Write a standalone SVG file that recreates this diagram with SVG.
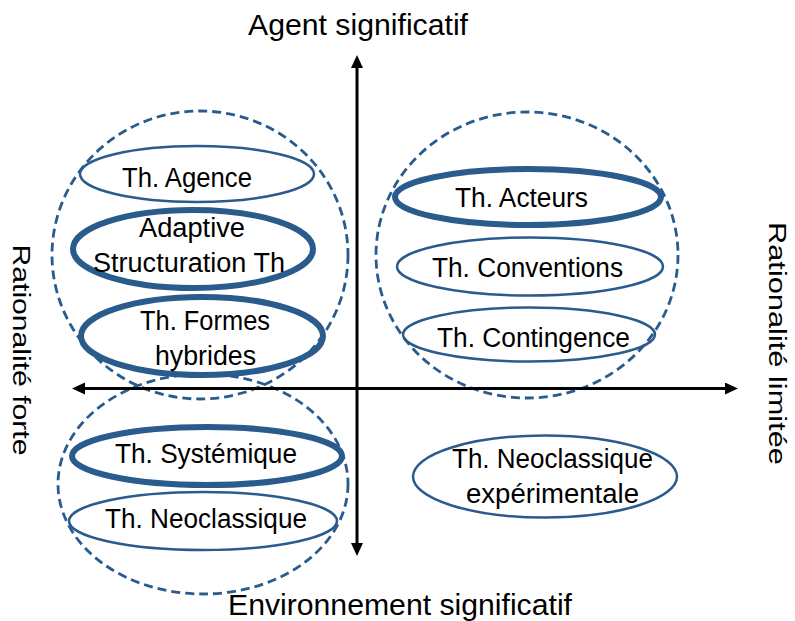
<svg xmlns="http://www.w3.org/2000/svg" width="795" height="621" viewBox="0 0 795 621">
<style>
.grp{fill:none;stroke:#2a5b8d;stroke-width:2.8;stroke-dasharray:9 5}
.thin{fill:none;stroke:#2a5b8d;stroke-width:2.5}
.thick{fill:none;stroke:#2a5b8d;stroke-width:6}
.t{font-family:"Liberation Sans",Arial,sans-serif;font-size:27px;fill:#000;text-anchor:middle}
.ax{font-family:"Liberation Sans",Arial,sans-serif;font-size:29px;fill:#000;text-anchor:middle}
.sx{font-family:"Liberation Sans",Arial,sans-serif;font-size:23px;fill:#000;text-anchor:middle}
.axis{stroke:#000;stroke-width:3;fill:none}
</style>
<defs>
<marker id="ah" markerUnits="userSpaceOnUse" markerWidth="14" markerHeight="13" refX="3" refY="6" orient="auto-start-reverse">
<path d="M0,0 L13,6 L0,12 z" fill="#000"/>
</marker>
</defs>
<rect width="795" height="621" fill="#fff"/>

<g id="groups">
<ellipse id="group-top-left" class="grp" cx="200" cy="255" rx="148" ry="144"/>
<ellipse id="group-top-right" class="grp" cx="527" cy="255" rx="151" ry="143"/>
<ellipse id="group-bottom-left" class="grp" cx="203" cy="484" rx="145" ry="110"/>
</g>

<g id="connectors">
<line class="axis" x1="357" y1="546" x2="357" y2="65" marker-start="url(#ah)" marker-end="url(#ah)"/>
<line class="axis" x1="82" y1="388.5" x2="728" y2="388.5" marker-start="url(#ah)" marker-end="url(#ah)"/>
</g>

<g id="node-agence">
<ellipse class="thin" cx="197" cy="174" rx="117" ry="28"/>
<text class="t" x="187" y="187" textLength="130" lengthAdjust="spacingAndGlyphs">Th. Agence</text>
</g>
<g id="node-adaptive">
<ellipse class="thick" cx="193" cy="249" rx="120" ry="39"/>
<text class="t" x="192" y="237" textLength="106" lengthAdjust="spacingAndGlyphs">Adaptive</text>
<text class="t" x="189" y="272" textLength="192" lengthAdjust="spacingAndGlyphs">Structuration Th</text>
</g>
<g id="node-formes">
<ellipse class="thick" cx="202" cy="336" rx="121" ry="39"/>
<text class="t" x="205" y="330" textLength="130" lengthAdjust="spacingAndGlyphs">Th. Formes</text>
<text class="t" x="205.5" y="365" textLength="101" lengthAdjust="spacingAndGlyphs">hybrides</text>
</g>
<g id="node-acteurs">
<ellipse class="thick" cx="528" cy="197" rx="133" ry="28"/>
<text class="t" x="521.5" y="207" textLength="133" lengthAdjust="spacingAndGlyphs">Th. Acteurs</text>
</g>
<g id="node-conventions">
<ellipse class="thin" cx="530" cy="266.5" rx="133" ry="29"/>
<text class="t" x="527.5" y="277" textLength="191" lengthAdjust="spacingAndGlyphs">Th. Conventions</text>
</g>
<g id="node-contingence">
<ellipse class="thin" cx="529" cy="334.5" rx="126" ry="27"/>
<text class="t" x="533.5" y="347" textLength="193" lengthAdjust="spacingAndGlyphs">Th. Contingence</text>
</g>
<g id="node-systemique">
<ellipse class="thick" cx="207" cy="456" rx="135" ry="29"/>
<text class="t" x="206" y="463" textLength="182" lengthAdjust="spacingAndGlyphs">Th. Systémique</text>
</g>
<g id="node-neoclassique">
<ellipse class="thin" cx="203" cy="521" rx="134" ry="29"/>
<text class="t" x="206" y="528" textLength="202" lengthAdjust="spacingAndGlyphs">Th. Neoclassique</text>
</g>
<g id="node-neoclassique-exp">
<ellipse class="thin" cx="545" cy="476.5" rx="132" ry="41"/>
<text class="t" x="552.5" y="468" textLength="201" lengthAdjust="spacingAndGlyphs">Th. Neoclassique</text>
<text class="t" x="552.5" y="503" textLength="173" lengthAdjust="spacingAndGlyphs">expérimentale</text>
</g>

<g id="axis-labels">
<text class="ax" x="358" y="35" textLength="220" lengthAdjust="spacingAndGlyphs">Agent significatif</text>
<text class="ax" x="400" y="615" textLength="344" lengthAdjust="spacingAndGlyphs">Environnement significatif</text>
<text class="sx" transform="translate(13,350) rotate(90)" textLength="211" lengthAdjust="spacingAndGlyphs">Rationalité forte</text>
<text class="sx" transform="translate(769,343.5) rotate(90)" textLength="243" lengthAdjust="spacingAndGlyphs">Rationalité limitée</text>
</g>
</svg>
